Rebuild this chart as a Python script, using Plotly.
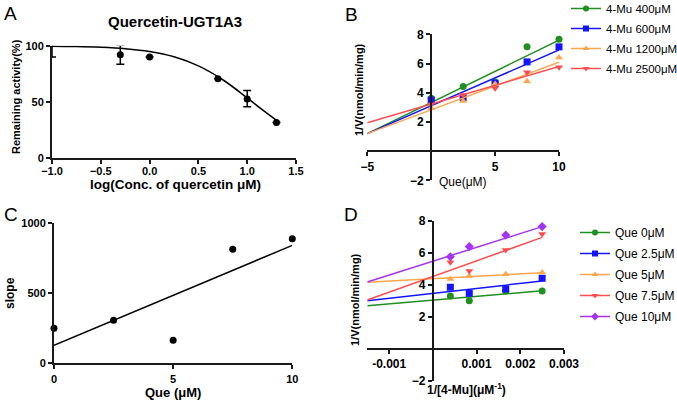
import plotly.graph_objects as go

# ---------------- data ----------------
# Panel A
a_logc = [-1.0, -0.3, 0.0, 0.7, 1.0, 1.3]
a_mean = [101, 92, 90, 70.5, 52.5, 31.5]
a_err_plus = [0, 8.5, 0, 0, 7.5, 0]
a_err_minus = [11, 8.5, 0, 0, 7, 0]
a_fit_x = [-1.0, -0.75, -0.5, -0.25, 0.0, 0.25, 0.5, 0.75, 1.0, 1.15, 1.3]
a_fit_y = [99.6, 99.3, 98.6, 97.3, 94.8, 90.1, 82.0, 69.6, 53.4, 43.1, 33.4]

# Panel B
b_que = [0, 2.5, 5, 7.5, 10]
b_series = {
    "4-Mu 400μM": [3.62, 4.42, 4.74, 7.14, 7.66],
    "4-Mu 600μM": [3.5, 3.66, 4.65, 6.11, 7.14],
    "4-Mu 1200μM": [2.94, 3.43, 4.6, 4.79, 6.41],
    "4-Mu 2500μM": [3.19, 3.85, 4.31, 5.4, 5.74],
}
b_fit_x = [-5, 10]
b_fits = {
    "4-Mu 400μM": [1.2, 7.6],
    "4-Mu 600μM": [1.2, 6.93],
    "4-Mu 1200μM": [1.2, 6.09],
    "4-Mu 2500μM": [1.95, 5.79],
}

# Panel C
c_que = [0, 2.5, 5, 7.5, 10]
c_slope = [249, 306, 164, 811, 886]
c_fit_x = [0, 10]
c_fit_y = [128, 839]

# Panel D
d_inv = [0.0004, 0.000833, 0.001667, 0.0025]
d_series = {
    "Que 0μM": [3.29, 3.0, 3.6, 3.6],
    "Que 2.5μM": [3.84, 3.46, 3.73, 4.4],
    "Que 5μM": [4.36, 4.54, 4.65, 4.77],
    "Que 7.5μM": [5.4, 4.86, 6.17, 7.17],
    "Que 10μM": [5.75, 6.38, 7.1, 7.63],
}
d_fit_x = [-0.0015, 0.0025]
d_fits = {
    "Que 0μM": [2.68, 3.62],
    "Que 2.5μM": [3.0, 4.23],
    "Que 5μM": [4.15, 4.75],
    "Que 7.5μM": [3.04, 6.96],
    "Que 10μM": [4.17, 7.63],
}

# ---------------- styles ----------------
W, H = 677, 402
FONT = "Liberation Sans, Arial, sans-serif"
AX = "#1a1a1a"
b_colors = ["#1f8f1f", "#1414ff", "#ffa64d", "#ff4d4d"]
b_symbols = ["circle", "square", "triangle-up", "triangle-down"]
d_colors = ["#1f8f1f", "#1414ff", "#ffa64d", "#ff4d4d", "#a633f0"]
d_symbols = ["circle", "square", "triangle-up", "triangle-down", "diamond"]


def fx(p):
    return p / W


def fy(p):
    return 1 - p / H


fig = go.Figure()

# ---- Panel A ----
fig.add_trace(go.Scatter(x=a_fit_x, y=a_fit_y, mode="lines", line=dict(color="black", width=1.5, shape="spline"),
                         xaxis="x", yaxis="y", showlegend=False, cliponaxis=False))
fig.add_trace(go.Scatter(x=a_logc, y=a_mean, mode="markers",
                         marker=dict(color="black", size=7),
                         error_y=dict(type="data", symmetric=False, array=a_err_plus, arrayminus=a_err_minus,
                                      color="black", thickness=1.5, width=4),
                         xaxis="x", yaxis="y", showlegend=False, cliponaxis=False))

# ---- Panel B ----
for i, (name, vals) in enumerate(b_series.items()):
    c = b_colors[i]
    fig.add_trace(go.Scatter(x=b_fit_x, y=b_fits[name], mode="lines", line=dict(color=c, width=1.5),
                             xaxis="x2", yaxis="y2", showlegend=False, cliponaxis=False))
    fig.add_trace(go.Scatter(x=b_que, y=vals, mode="markers", marker=dict(color=c, size=7, symbol=b_symbols[i]),
                             xaxis="x2", yaxis="y2", showlegend=False, cliponaxis=False))
    fig.add_trace(go.Scatter(x=[None], y=[None], mode="lines+markers", name=name, legendgroup="b%d" % i,
                             line=dict(color=c, width=1.5), marker=dict(color=c, size=6, symbol=b_symbols[i]),
                             xaxis="x2", yaxis="y2", legend="legend"))

# ---- Panel C ----
fig.add_trace(go.Scatter(x=c_fit_x, y=c_fit_y, mode="lines", line=dict(color="black", width=1.5),
                         xaxis="x3", yaxis="y3", showlegend=False, cliponaxis=False))
fig.add_trace(go.Scatter(x=c_que, y=c_slope, mode="markers", marker=dict(color="black", size=7),
                         xaxis="x3", yaxis="y3", showlegend=False, cliponaxis=False))

# ---- Panel D ----
for i, (name, vals) in enumerate(d_series.items()):
    c = d_colors[i]
    fig.add_trace(go.Scatter(x=d_fit_x, y=d_fits[name], mode="lines", line=dict(color=c, width=1.5),
                             xaxis="x4", yaxis="y4", showlegend=False, cliponaxis=False))
    fig.add_trace(go.Scatter(x=d_inv, y=vals, mode="markers", marker=dict(color=c, size=7, symbol=d_symbols[i]),
                             xaxis="x4", yaxis="y4", showlegend=False, cliponaxis=False))
    fig.add_trace(go.Scatter(x=[None], y=[None], mode="lines+markers", name=name, legendgroup="d%d" % i,
                             line=dict(color=c, width=1.5), marker=dict(color=c, size=6, symbol=d_symbols[i]),
                             xaxis="x4", yaxis="y4", legend="legend2"))

tickfont_b = dict(family=FONT, size=11, color="black", weight="bold")
tickfont_b12 = dict(family=FONT, size=12, color="black", weight="bold")
common = dict(showgrid=False, zeroline=False, showline=True, linecolor=AX, linewidth=2,
              ticks="outside", ticklen=4, tickwidth=1.5, tickcolor=AX, automargin=False)

# Panel A domains
xA = [fx(52), fx(296)]
yA = [fy(157.7), fy(45.7)]
# Panel B
xB = [fx(367.3), fx(559)]
yB = [fy(180.4), fy(34.3)]
# Panel C
xC = [fx(54), fx(292.3)]
yC = [fy(363.3), fy(222.7)]
# Panel D
xD = [fx(367.3), fx(564)]
yD = [fy(380.7), fy(220.7)]

b_xrange = [-5, 10]
b_yrange = [-2, 8]
d_xrange = [-0.0015, 0.003]
d_yrange = [-2, 8]

posB_x = yB[0] + (0 - b_yrange[0]) / (b_yrange[1] - b_yrange[0]) * (yB[1] - yB[0])
posB_y = xB[0] + (0 - b_xrange[0]) / (b_xrange[1] - b_xrange[0]) * (xB[1] - xB[0])
posD_x = yD[0] + (0 - d_yrange[0]) / (d_yrange[1] - d_yrange[0]) * (yD[1] - yD[0])
posD_y = xD[0] + (0 - d_xrange[0]) / (d_xrange[1] - d_xrange[0]) * (xD[1] - xD[0])

fig.update_layout(
    width=W, height=H, margin=dict(l=0, r=0, t=0, b=0, autoexpand=False),
    paper_bgcolor="white", plot_bgcolor="white",
    font=dict(family=FONT, color="black"),
    xaxis=dict(domain=xA, range=[-1, 1.5], anchor="y", tickvals=[-1, -0.5, 0, 0.5, 1, 1.5],
               tickformat=".1f", tickfont=tickfont_b, ticklabelstandoff=-2, **common),
    yaxis=dict(domain=yA, range=[0, 100], anchor="x", tickvals=[0, 50, 100], tickfont=tickfont_b, **common),
    xaxis2=dict(domain=xB, range=b_xrange, anchor="free", position=posB_x, tickvals=[-5, 5, 10],
                tickfont=tickfont_b12, **common),
    yaxis2=dict(domain=yB, range=b_yrange, anchor="free", position=posB_y, tickvals=[-2, 2, 4, 6, 8],
                tickfont=tickfont_b12, **common),
    xaxis3=dict(domain=xC, range=[0, 10], anchor="y3", tickvals=[0, 5, 10], tickfont=tickfont_b, **common),
    yaxis3=dict(domain=yC, range=[0, 1000], anchor="x3", tickvals=[0, 500, 1000], tickfont=tickfont_b, **common),
    xaxis4=dict(domain=xD, range=d_xrange, anchor="free", position=posD_x,
                tickvals=[-0.001, 0.001, 0.002, 0.003], ticktext=["-0.001", "0.001", "0.002", "0.003"],
                tickfont=tickfont_b12, **common),
    yaxis4=dict(domain=yD, range=d_yrange, anchor="free", position=posD_y, tickvals=[-2, 2, 4, 6, 8],
                tickfont=tickfont_b12, **common),
    legend=dict(x=fx(566), y=fy(-6), xanchor="left", yanchor="top", bgcolor="rgba(0,0,0,0)",
                font=dict(family=FONT, size=11.5, color="black"), itemwidth=30, tracegroupgap=1),
    legend2=dict(x=fx(575), y=fy(218), xanchor="left", yanchor="top", bgcolor="rgba(0,0,0,0)",
                 font=dict(family=FONT, size=12, color="black"), itemwidth=30, tracegroupgap=2),
)

ann = []


def text(x, y, s, size=12, bold=True, angle=0, xanchor="center"):
    ann.append(dict(x=fx(x), y=fy(y), xref="paper", yref="paper", text=s, showarrow=False,
                    xanchor=xanchor, yanchor="middle", textangle=angle,
                    font=dict(family=FONT, size=size, color="black", weight="bold" if bold else "normal")))


# panel labels
text(11, 14, "A", size=19, bold=False)
text(351, 15, "B", size=19, bold=False)
text(11, 215, "C", size=19, bold=False)
text(351, 215, "D", size=19, bold=False)
# Panel A titles
text(175, 21, "Quercetin-UGT1A3", size=15)
text(175, 185, "log(Conc. of quercetin μM)", size=13.5)
text(16, 97, "Remaining activity(%)", size=11, angle=-90)
# Panel B titles
text(463, 181.5, "Que(μM)", size=12, bold=False)
text(359, 90, "1/V(nmol/min/mg)", size=11, angle=-90)
# Panel C titles
text(173, 392, "Que (μM)", size=13)
text(10, 293, "slope", size=12, angle=-90)
# Panel D titles
text(467, 389, "1/[4-Mu](μM<sup>-1</sup>)", size=12)
text(355, 300, "1/V(nmol/min/mg)", size=11, angle=-90)

fig.update_layout(annotations=ann)
fig.write_html("out.html", config={"displayModeBar": False},
               post_script="document.body.style.margin='0px';document.body.style.overflow='hidden';")
